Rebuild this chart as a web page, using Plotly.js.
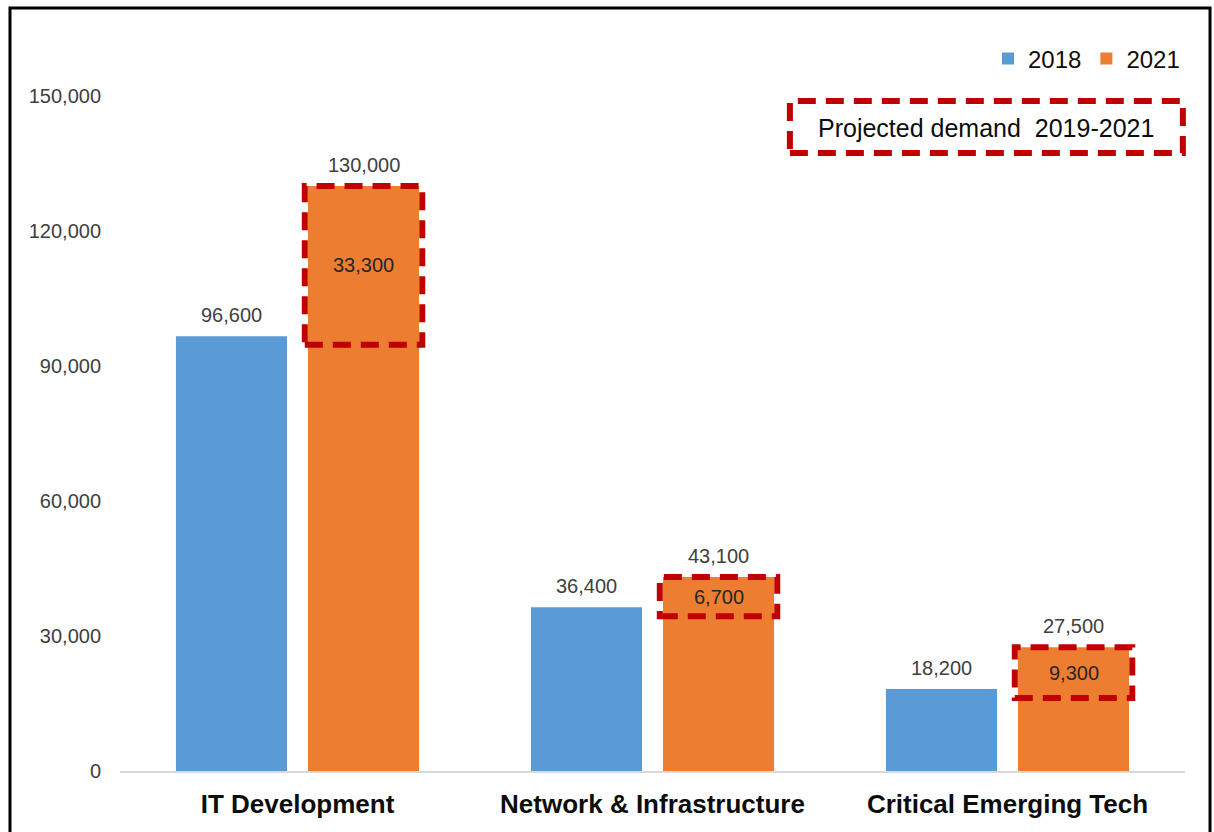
<!DOCTYPE html>
<html>
<head>
<meta charset="utf-8">
<script src="https://cdn.plot.ly/plotly-3.0.1.min.js"></script>
<style>html,body{margin:0;padding:0;background:#fff;}#chart{width:1214px;height:832px;}</style>
</head>
<body>
<div id="chart"></div>
<script>
// ---- data ----
const categories = ["IT Development", "Network & Infrastructure", "Critical Emerging Tech"];
const values2018 = [96600, 36400, 18200];
const values2021 = [130000, 43100, 27500];
const projected = [33300, 6700, 9300];
const seriesNames = ["2018", "2021"];
const yTicks = [0, 30000, 60000, 90000, 120000, 150000];
const boxLabel = "Projected demand  2019-2021";

// ---- style ----
const BLUE = "#5B9BD5", ORANGE = "#ED7D31", RED = "#C00000";
const FONT = "Liberation Sans, Arial, sans-serif";
const bargap = 0.256, bargroupgap = 0.159;
const slot = (1 - bargap) / 2;
const offset = slot / 2;
const barHalf = slot * (1 - bargroupgap) / 2;
const boxHalf = barHalf + 0.009;
const boxPad = 2000;

const fmt = v => v.toLocaleString("en-US");
const idx = categories.map((c, i) => i);

const traces = [
  {type: "bar", name: seriesNames[0], x: idx, y: values2018, marker: {color: BLUE}, hoverinfo: "skip"},
  {type: "bar", name: seriesNames[1], x: idx, y: values2021, marker: {color: ORANGE}, hoverinfo: "skip"}
];

const annotations = [];
const shapes = [];
idx.forEach(i => {
  annotations.push({x: i - offset, y: values2018[i], xref: "x", yref: "y", text: fmt(values2018[i]),
    showarrow: false, yanchor: "bottom", yshift: 8, font: {family: FONT, size: 20, color: "#404040"}});
  annotations.push({x: i + offset, y: values2021[i], xref: "x", yref: "y", text: fmt(values2021[i]),
    showarrow: false, yanchor: "bottom", yshift: 8, font: {family: FONT, size: 20, color: "#404040"}});
  const y0 = values2021[i] - projected[i] - boxPad;
  const y1 = values2021[i];
  shapes.push({type: "rect", xref: "x", yref: "y", x0: i + offset - boxHalf, x1: i + offset + boxHalf,
    y0: y0, y1: y1, line: {color: RED, width: 6, dash: "18px,10px"}, layer: "above"});
  annotations.push({x: i + offset, y: (y0 + y1) / 2, xref: "x", yref: "y", text: fmt(projected[i]),
    showarrow: false, yanchor: "middle", font: {family: FONT, size: 20, color: "#262626"}});
});

// projected demand legend box
shapes.push({type: "rect", xref: "paper", yref: "paper", x0: 0.629, x1: 0.998, y0: 0.9156, y1: 0.9926,
  line: {color: RED, width: 6, dash: "18px,10px"}});
annotations.push({xref: "paper", yref: "paper", x: 0.8135, y: 0.9526, text: boxLabel, showarrow: false,
  xanchor: "center", yanchor: "middle", font: {family: FONT, size: 25, color: "#0d0d0d"}});

// outer frame
shapes.push({type: "rect", xref: "paper", yref: "paper", x0: -0.1033, x1: 1.0235, y0: -0.12, y1: 1.1304,
  line: {color: "#000000", width: 3}});

const layout = {
  width: 1214, height: 832,
  margin: {l: 120, r: 29, t: 96, b: 61},
  paper_bgcolor: "#ffffff", plot_bgcolor: "#ffffff",
  barmode: "group", bargap: bargap, bargroupgap: bargroupgap,
  font: {family: FONT, color: "#404040"},
  showlegend: true,
  legend: {orientation: "h", x: 1.0, xanchor: "right", y: 1.055, yanchor: "middle",
    font: {family: FONT, size: 24, color: "#0d0d0d"}, itemwidth: 30, traceorder: "normal",
    bgcolor: "rgba(0,0,0,0)"},
  xaxis: {type: "linear", range: [-0.5, 2.5], tickvals: idx, ticktext: categories,
    showgrid: false, zeroline: false, showline: true, linecolor: "#D9D9D9", linewidth: 2,
    ticks: "", ticklabelstandoff: 9, fixedrange: true,
    tickfont: {family: FONT, size: 26, color: "#0d0d0d", weight: "bold"}},
  yaxis: {range: [0, 150000], tickvals: yTicks, ticktext: yTicks.map(fmt),
    showgrid: false, zeroline: false, showline: false, ticks: "", ticklabelstandoff: 18,
    tickfont: {family: FONT, size: 20, color: "#404040"}, fixedrange: true},
  annotations: annotations,
  shapes: shapes
};

Plotly.newPlot("chart", traces, layout, {displayModeBar: false, staticPlot: true});
</script>
</body>
</html>
